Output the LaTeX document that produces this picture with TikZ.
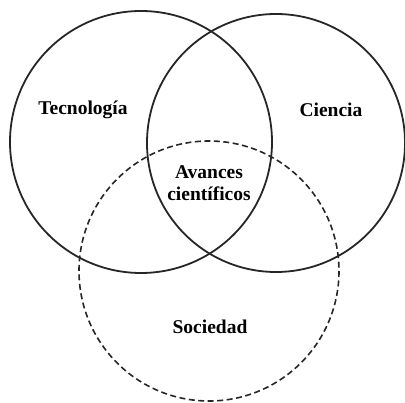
\documentclass[tikz,border=0pt]{standalone}
\usepackage{fontspec}
\setmainfont{Liberation Serif}
\begin{document}
\begin{tikzpicture}[x=1pt,y=-1pt,
  ring/.style={draw=black!85,line width=1.8pt},
  dashring/.style={draw=black!85,line width=1.6pt,dash pattern=on 6pt off 3.5pt},
  lbl/.style={font=\fontsize{19.5}{22}\selectfont\bfseries,align=center,inner sep=0pt}]
\useasboundingbox (0,0) rectangle (405,403);
\draw[ring] (141,142) circle (131);
\draw[ring] (276,143) circle (129);
\draw[dashring] (209,271) circle (130);
\node[lbl] (tec) at (83,110) {Tecnología};
\node[lbl] (cie) at (331,110) {Ciencia};
\node[lbl] (ava) at (209,183) {Avances\\científicos};
\node[lbl] (soc) at (210,327) {Sociedad};
\end{tikzpicture}
\end{document}
